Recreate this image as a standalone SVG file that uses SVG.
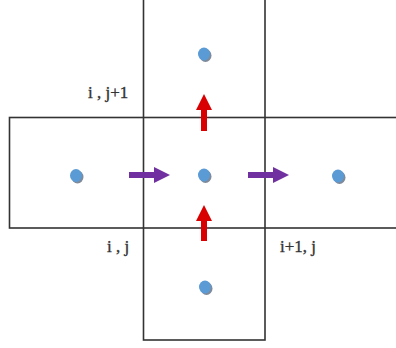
<svg xmlns="http://www.w3.org/2000/svg" width="396" height="348" viewBox="0 0 396 348">
<style>
.cell{fill:none;stroke:#333;stroke-width:1.6}
.dot{fill:#5b9bd5}
.sh{fill:#7f8a9a}
.lbl{font-family:"Liberation Serif",serif;font-size:17px;fill:#333;stroke:#333;stroke-width:0.35}
.red{fill:#d80000}
.pur{fill:#7030a0}
</style>
<rect width="396" height="348" fill="#fff"/>
<g id="cells">
<rect id="cell-h" class="cell" x="9.5" y="117.5" width="400" height="110.5"/>
<rect id="cell-v" class="cell" x="143.5" y="-2" width="121.5" height="342"/>
</g>
<g id="node-top"><ellipse class="sh" cx="205.5" cy="55.5" rx="6" ry="6.5"/><ellipse class="dot" cx="204" cy="54" rx="6" ry="6.5"/></g>
<g id="node-center"><ellipse class="sh" cx="205.5" cy="176.5" rx="6" ry="6.5"/><ellipse class="dot" cx="204" cy="175" rx="6" ry="6.5"/></g>
<g id="node-left"><ellipse class="sh" cx="77.5" cy="177" rx="6" ry="6.5"/><ellipse class="dot" cx="76" cy="175.5" rx="6" ry="6.5"/></g>
<g id="node-right"><ellipse class="sh" cx="339.5" cy="177.5" rx="6" ry="6.5"/><ellipse class="dot" cx="338" cy="176" rx="6" ry="6.5"/></g>
<g id="node-bottom"><ellipse class="sh" cx="206.5" cy="288.5" rx="6" ry="6.5"/><ellipse class="dot" cx="205" cy="287" rx="6" ry="6.5"/></g>
<g id="connectors">
<polygon class="red" points="201,131 207,131 207,110 212,110 204,94 196,110 201,110"/>
<polygon class="red" points="201,241 207,241 207,221 212,221 204,205 196,221 201,221"/>
<polygon class="pur" points="129,172 154,172 154,167 170,175 154,183 154,178 129,178"/>
<polygon class="pur" points="248,172 273,172 273,167 289,175 273,183 273,178 248,178"/>
</g>
<g id="labels">
<text class="lbl" x="88" y="98">i , j+1</text>
<text class="lbl" x="107" y="252">i , j</text>
<text class="lbl" x="280" y="252">i+1, j</text>
</g>
</svg>
